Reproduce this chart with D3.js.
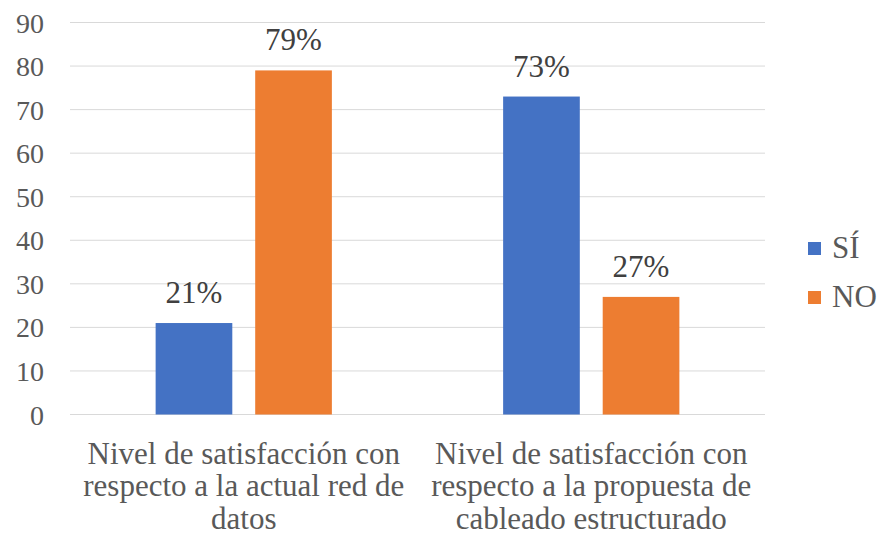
<!DOCTYPE html>
<html>
<head>
<meta charset="utf-8">
<script src="https://cdn.jsdelivr.net/npm/d3@7"></script>
</head>
<body style="margin:0">
<script>
// data
const categories = [
    ["Nivel de satisfacción con", "respecto a la actual red de", "datos"],
    ["Nivel de satisfacción con", "respecto a la propuesta de", "cableado estructurado"]
];
const seriesNames = ["SÍ", "NO"];
const siValues = [21, 73];
const noValues = [79, 27];
const yTicks = [0, 10, 20, 30, 40, 50, 60, 70, 80, 90];
const colors = ["#4472C4", "#ED7D31"];

const fontFam = '"Liberation Serif"';
const width = 883, height = 543;
const margin = { top: 22.5, right: 118, bottom: 128.5, left: 70 };
const innerW = width - margin.left - margin.right;
const innerH = height - margin.top - margin.bottom;

// helper: put the serif font on a text element
function serifText(sel, size, color) {
    return sel
        .attr('font-family', fontFam)
        .attr('font-size', size)
        .attr('fill', color)
        .style('font-family', fontFam, 'important')
        .style('font-size', size + 'px', 'important');
}

const svg = d3.select('body').append('svg')
    .attr('width', width)
    .attr('height', height);

const chart = svg.append('g')
    .attr('transform', `translate(${margin.left},${margin.top})`);

const xScale = d3.scaleBand()
    .domain(d3.range(categories.length))
    .range([0, innerW]);

const xSub = d3.scaleBand()
    .domain(seriesNames)
    .range([0, xScale.bandwidth()])
    .paddingInner(0.23)
    .paddingOuter(0.86);

const yScale = d3.scaleLinear()
    .domain([0, 90])
    .range([innerH, 0]);

// gridlines
chart.selectAll('.grid')
    .data(yTicks)
    .enter()
    .append('line')
    .attr('x1', 0)
    .attr('x2', innerW)
    .attr('y1', d => yScale(d))
    .attr('y2', d => yScale(d))
    .attr('stroke', '#d9d9d9')
    .attr('stroke-width', 1);

// y axis labels
const yAxis = d3.axisLeft(yScale).tickValues(yTicks).tickSize(0).tickPadding(26);
const yAxisG = chart.append('g').call(yAxis)
    .attr('font-family', fontFam)
    .attr('font-size', 28);
yAxisG.select('.domain').remove();
serifText(yAxisG.selectAll('text').attr('dy', '0.34em'), 28, '#595959');

const rows = [];
categories.forEach((c, i) => {
    rows.push({ cat: i, series: "SÍ", value: siValues[i] });
    rows.push({ cat: i, series: "NO", value: noValues[i] });
});

chart.selectAll('.bar')
    .data(rows)
    .enter()
    .append('rect')
    .attr('class', 'bar')
    .attr('x', d => xScale(d.cat) + xSub(d.series))
    .attr('width', xSub.bandwidth())
    .attr('y', d => yScale(d.value))
    .attr('height', d => innerH - yScale(d.value))
    .attr('fill', d => colors[seriesNames.indexOf(d.series)]);

serifText(chart.selectAll('.label')
    .data(rows)
    .enter()
    .append('text')
    .attr('x', d => xScale(d.cat) + xSub(d.series) + xSub.bandwidth() / 2)
    .attr('y', d => yScale(d.value) - 20)
    .attr('text-anchor', 'middle')
    .text(d => d.value + '%'), 31, '#404040');

// category labels, one text per line
categories.forEach((lines, i) => {
    serifText(chart.selectAll(null)
        .data(lines)
        .enter()
        .append('text')
        .attr('x', xScale(i) + xScale.bandwidth() / 2)
        .attr('y', (l, j) => innerH + 49 + j * 32.5)
        .attr('text-anchor', 'middle')
        .text(l => l), 31, '#595959');
});

// legend
const legend = svg.append('g')
    .attr('transform', 'translate(808,242)');
seriesNames.forEach((s, i) => {
    const g = legend.append('g').attr('transform', `translate(0,${i * 49})`);
    g.append('rect')
        .attr('width', 13)
        .attr('height', 13)
        .attr('fill', colors[i]);
    serifText(g.append('text')
        .attr('x', 24)
        .attr('y', 16)
        .text(s), 31, '#595959');
});
</script>
</body>
</html>
